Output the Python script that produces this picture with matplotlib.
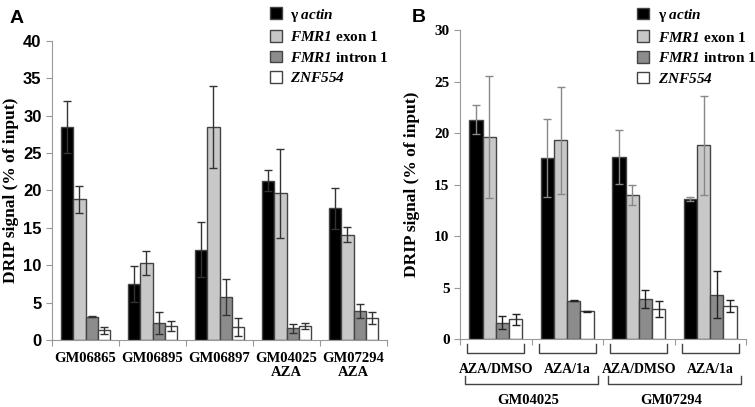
import matplotlib.pyplot as plt
import matplotlib.transforms as mtransforms
from matplotlib.patches import Patch
import numpy as np

plt.rcParams['mathtext.fontset'] = 'custom'
plt.rcParams['mathtext.it'] = 'Liberation Serif:italic:bold'
plt.rcParams['mathtext.rm'] = 'Liberation Serif:italic:bold'
plt.rcParams['mathtext.bf'] = 'Liberation Serif:italic:bold'

# Panel A
groups_a = ['GM06865', 'GM06895', 'GM06897', 'GM04025\nAZA', 'GM07294\nAZA']
actin_a = [28.5, 7.5, 12.1, 21.3, 17.6]
actin_a_err = [3.5, 2.4, 3.7, 1.4, 2.7]
exon_a = [18.8, 10.3, 28.5, 19.6, 14.1]
exon_a_err = [1.8, 1.6, 5.5, 6.0, 1.0]
intron_a = [3.1, 2.3, 5.8, 1.6, 3.9]
intron_a_err = [0.05, 1.5, 2.4, 0.6, 0.9]
znf_a = [1.3, 1.9, 1.8, 1.9, 2.9]
znf_a_err = [0.5, 0.7, 1.2, 0.4, 0.8]

# Panel B
groups_b = ['AZA/DMSO', 'AZA/1a', 'AZA/DMSO', 'AZA/1a']
cell_lines_b = ['GM04025', 'GM07294']
actin_b = [21.3, 17.6, 17.7, 13.6]
actin_b_err = [1.4, 3.8, 2.6, 0.2]
exon_b = [19.6, 19.3, 14.0, 18.8]
exon_b_err = [5.9, 5.2, 1.0, 4.8]
intron_b = [1.6, 3.7, 3.9, 4.3]
intron_b_err = [0.6, 0.05, 0.9, 2.3]
znf_b = [1.9, 2.7, 2.9, 3.2]
znf_b_err = [0.5, 0.05, 0.8, 0.6]

labels = ['γ $\\mathit{actin}$', '$\\mathit{FMR1}$ exon 1',
          '$\\mathit{FMR1}$ intron 1', '$\\mathit{ZNF554}$']
colors = ['#000000', '#c8c8c8', '#8c8c8c', '#ffffff']

serif = 'Liberation Serif'
sans = 'Liberation Sans'

fig = plt.figure(figsize=(7.55, 4.07), dpi=100)
ax1 = fig.add_axes([0.0689, 0.1646, 0.4437, 0.7347])
ax2 = fig.add_axes([0.6093, 0.167, 0.3788, 0.759])


def draw_bars(ax, series, errs, n, width, ecolors):
    x = np.arange(n) + 0.5
    for k in range(4):
        pos = x + (k - 1.5) * width
        ax.bar(pos, series[k], width, color=colors[k], edgecolor='#444444',
               linewidth=1.0, zorder=2)
        ax.errorbar(pos, series[k], yerr=errs[k], fmt='none',
                    ecolor=ecolors[k], elinewidth=1.0, capsize=3, capthick=1.0, zorder=3)
    ax.set_xlim(0, n)
    ax.set_xticks(np.arange(n + 1))
    ax.set_xticklabels([])
    for s in ['top', 'right']:
        ax.spines[s].set_visible(False)
    for s in ['left', 'bottom']:
        ax.spines[s].set_color('#999999')
    ax.tick_params(axis='both', color='#999999', length=4)


draw_bars(ax1, [actin_a, exon_a, intron_a, znf_a],
          [actin_a_err, exon_a_err, intron_a_err, znf_a_err], 5, 0.18,
          ['#333333'] * 4)
ax1.set_ylim(0, 40)
ax1.set_yticks(range(0, 41, 5))
for t in ax1.get_yticklabels():
    t.set_fontfamily(sans)
    t.set_fontweight('bold')
    t.set_fontsize(12)
for i, g in enumerate(groups_a):
    ax1.text(i + 0.5, -1.6, g, ha='center', va='top', fontfamily=serif,
             fontweight='bold', fontsize=10.5, linespacing=1.1)
ax1.set_ylabel('DRIP signal (% of input)', fontfamily=serif, fontweight='bold',
               fontsize=12.5, labelpad=3)

draw_bars(ax2, [actin_b, exon_b, intron_b, znf_b],
          [actin_b_err, exon_b_err, intron_b_err, znf_b_err], 4, 0.185,
          ['#888888', '#888888', '#222222', '#222222'])
ax2.set_ylim(0, 30)
ax2.set_yticks(range(0, 31, 5))
for t in ax2.get_yticklabels():
    t.set_fontfamily(serif)
    t.set_fontweight('bold')
    t.set_fontsize(11)
ax2.set_ylabel('DRIP signal (% of input)', fontfamily=serif, fontweight='bold',
               fontsize=12.5, labelpad=10)

# brackets under panel B
trans = mtransforms.blended_transform_factory(ax2.transData, ax2.transAxes)
for i, g in enumerate(groups_b):
    x0, x1 = i + 0.1, i + 0.9
    ax2.plot([x0, x0, x1, x1], [-0.015, -0.045, -0.045, -0.015], color='#444444',
             lw=1.0, transform=trans, clip_on=False)
    ax2.text(i + 0.5, -0.078, g, ha='center', va='top', transform=trans,
             fontfamily=serif, fontweight='bold', fontsize=10)
for j, c in enumerate(cell_lines_b):
    x0, x1 = 2 * j + 0.07, 2 * j + 1.93
    ax2.plot([x0, x0, x1, x1], [-0.12, -0.145, -0.145, -0.12], color='#444444',
             lw=1.0, transform=trans, clip_on=False)
    ax2.text(2 * j + 0.95, -0.178, c, ha='center', va='top', transform=trans,
             fontfamily=serif, fontweight='bold', fontsize=10.5)

# legends
handles = [Patch(facecolor=colors[k], edgecolor='#444444', label=labels[k]) for k in range(4)]
for ax, anchor in [(ax1, (0.65, 1.115)), (ax2, (0.619, 1.075))]:
    ax.legend(handles=handles, loc='upper left', bbox_to_anchor=anchor, frameon=False,
              prop={'family': serif, 'weight': 'bold', 'size': 11},
              handlelength=0.8, handleheight=0.8, handletextpad=0.55, labelspacing=0.42,
              borderaxespad=0, borderpad=0)

fig.text(0.013, 0.955, 'A', fontfamily=sans, fontweight='bold', fontsize=14, va='center')
fig.text(0.545, 0.958, 'B', fontfamily=sans, fontweight='bold', fontsize=14, va='center')

fig.savefig('out.png', dpi=100)
